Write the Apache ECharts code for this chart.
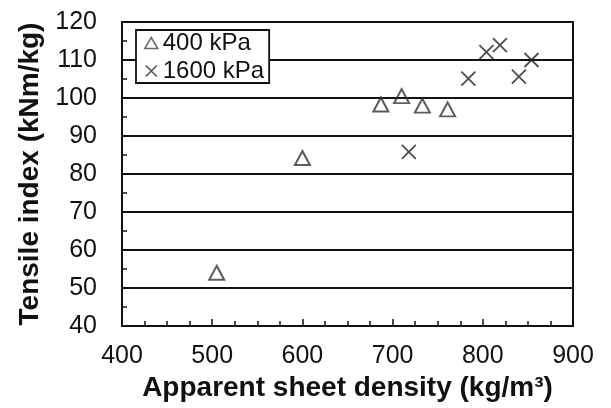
<!DOCTYPE html>
<html><head><meta charset="utf-8">
<script src="https://cdn.jsdelivr.net/npm/echarts@6/dist/echarts.min.js"></script>
<style>html,body{margin:0;padding:0;background:#fff}#c{width:611px;height:408px}</style>
</head><body><div id="c"></div>
<script>
const seriesNames = ['400 kPa', '1600 kPa'];
const density400 = [505, 600, 687, 710, 733, 761];
const tensile400 = [54, 84.2, 98.3, 100.5, 98, 97];
const density1600 = [718, 784, 804, 819, 840, 854];
const tensile1600 = [85.8, 105.1, 112.1, 113.9, 105.6, 110];
const xTicks = [400, 500, 600, 700, 800, 900];
const yTicks = [40, 50, 60, 70, 80, 90, 100, 110, 120];

const pair = (xs, ys) => xs.map((x, i) => [x, ys[i]]);
const FONT = 'Liberation Sans, Arial, sans-serif';
const crossPath = 'path://M0,0L10,10M10,0L0,10';

const chart = echarts.init(document.getElementById('c'), null, {renderer: 'canvas'});
chart.setOption({
  animation: false,
  backgroundColor: '#fff',
  grid: {left: 122, right: 38, top: 22, bottom: 82, show: true, borderColor: '#111', borderWidth: 2, containLabel: false},
  legend: {
    show: true, orient: 'vertical', left: 136, top: 30,
    padding: [1, 5, 0, 8], itemGap: 4, itemWidth: 13, itemHeight: 11,
    borderColor: '#111', borderWidth: 1.8, backgroundColor: '#fff',
    textStyle: {fontFamily: FONT, fontSize: 24, color: '#111'},
    data: [
      {name: seriesNames[0], icon: 'triangle', itemStyle: {color: 'transparent', borderColor: '#444', borderWidth: 1.5}},
      {name: seriesNames[1], icon: crossPath, itemStyle: {color: 'transparent', borderColor: '#222', borderWidth: 1.5}}
    ]
  },
  xAxis: {
    type: 'value', min: xTicks[0], max: xTicks[xTicks.length - 1], interval: 100,
    name: 'Apparent sheet density (kg/m³)', nameLocation: 'middle', nameGap: 46,
    nameTextStyle: {fontFamily: FONT, fontSize: 28, fontWeight: 'bold', color: '#111'},
    axisLine: {show: true, lineStyle: {color: '#111', width: 2}},
    axisTick: {show: true, inside: true, length: 7, lineStyle: {color: '#111', width: 1.5}},
    minorTick: {show: true, splitNumber: 4, length: 5, lineStyle: {color: '#111', width: 1.5}},
    axisLabel: {fontFamily: FONT, fontSize: 25, color: '#111', margin: 18, formatter: v => xTicks.includes(v) ? String(v) : ''},
    splitLine: {show: false}
  },
  yAxis: {
    type: 'value', min: yTicks[0], max: yTicks[yTicks.length - 1], interval: 10,
    name: 'Tensile index (kNm/kg)', nameLocation: 'middle', nameGap: 76,
    nameTextStyle: {fontFamily: FONT, fontSize: 28, fontWeight: 'bold', color: '#111'},
    axisLine: {show: true, lineStyle: {color: '#111', width: 2}},
    axisTick: {show: true, inside: true, length: 5, lineStyle: {color: '#111', width: 1.5}},
    minorTick: {show: true, splitNumber: 2, length: 5, lineStyle: {color: '#111', width: 1.5}},
    axisLabel: {fontFamily: FONT, fontSize: 25, color: '#111', margin: 25, formatter: v => yTicks.includes(v) ? String(v) : ''},
    splitLine: {show: true, lineStyle: {color: '#111', width: 2}}
  },
  series: [
    {name: seriesNames[0], type: 'scatter', symbol: 'triangle', symbolSize: [15, 14],
     itemStyle: {color: 'transparent', borderColor: '#333', borderWidth: 2}, data: pair(density400, tensile400)},
    {name: seriesNames[1], type: 'scatter', symbol: crossPath, symbolSize: 14,
     itemStyle: {color: 'transparent', borderColor: '#222', borderWidth: 1.8}, data: pair(density1600, tensile1600)}
  ]
});
</script></body></html>
